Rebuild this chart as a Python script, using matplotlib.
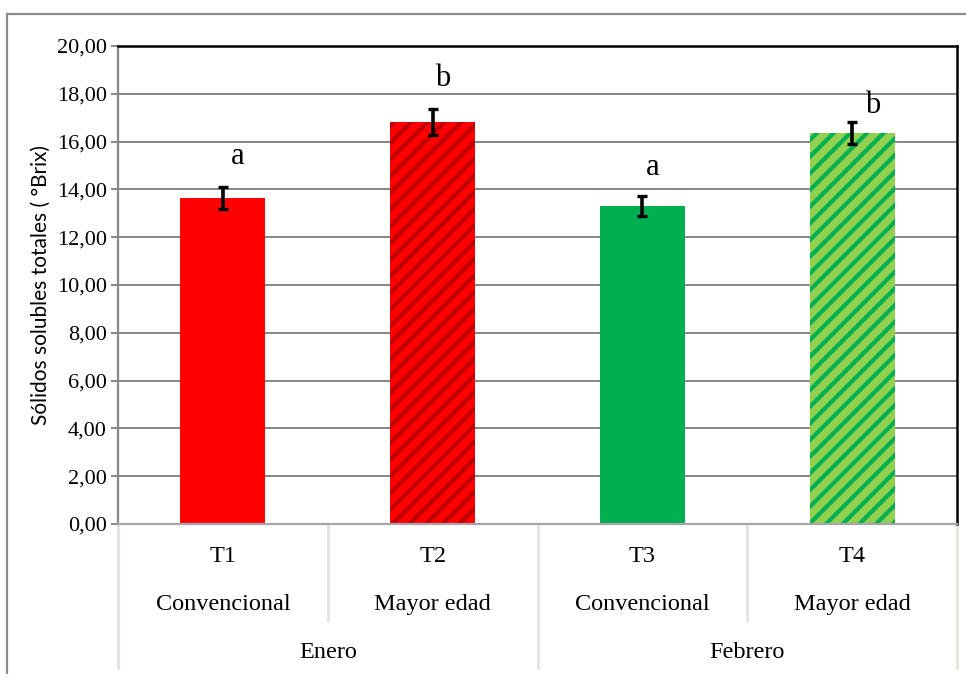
import numpy as np
import matplotlib.pyplot as plt
from matplotlib.patches import Rectangle
import matplotlib.transforms as mtransforms

# datos: sólidos solubles totales por tratamiento
tratamientos = ['T1', 'T2', 'T3', 'T4']
tipos = ['Convencional', 'Mayor edad', 'Convencional', 'Mayor edad']
meses = ['Enero', 'Febrero']
valores = [13.64, 16.82, 13.31, 16.36]
errores = [0.45, 0.56, 0.42, 0.44]
letras = ['a', 'b', 'a', 'b']

# estilo de cada barra: (relleno, color de rayas o None)
estilos = [('#ff0000', None), ('#ff0000', '#c00000'),
           ('#00b050', None), ('#92d050', '#00b050')]
# desplazamiento (x, y) de las letras respecto al borde superior de la barra
despl_letras = [(0.07, 1.75), (0.05, 1.8), (0.05, 1.6), (0.10, 1.15)]

serif = 'Liberation Serif'
plt.rcParams['hatch.linewidth'] = 3.0

fig = plt.figure(figsize=(9.66, 6.74), dpi=100)
fig.patches.append(Rectangle((7 / 966, -0.1), 1.1, 0.1 + 1 - 14 / 674, transform=fig.transFigure,
                             fill=False, edgecolor='#8c8c8c', linewidth=1.6, zorder=0))

ax = fig.add_axes([118 / 966, 1 - 524 / 674, 839 / 966, 478 / 674])
x = np.arange(len(valores))

for i in range(len(valores)):
    cara, raya = estilos[i]
    ax.bar(x[i], valores[i], 0.405, color=cara, linewidth=0, zorder=2)
    if raya:
        ax.bar(x[i], valores[i], 0.405, color='none', edgecolor=raya, hatch='//', linewidth=0, zorder=2)

ax.errorbar(x, valores, yerr=errores, fmt='none', ecolor='black', elinewidth=2.6,
            capsize=3.5, capthick=2.4, zorder=3)

for i in range(len(valores)):
    dx, dy = despl_letras[i]
    ax.text(x[i] + dx, valores[i] + dy, letras[i], ha='center', va='center',
            fontsize=22, family=serif)

ax.set_xlim(-0.5, 3.5)
ax.set_ylim(0, 20)
ax.set_yticks(np.arange(0, 21, 2))
ax.set_yticklabels([f'{v:.2f}'.replace('.', ',') for v in np.arange(0, 21, 2)],
                   family=serif, fontsize=16)
ax.yaxis.grid(True, color='#868686', linewidth=1.4, zorder=0)
ax.set_axisbelow(True)
ax.set_xticks([])
ax.tick_params(axis='y', length=5, width=1.4, color='#868686', pad=3)

ax.spines['left'].set_color('#868686')
ax.spines['left'].set_linewidth(1.6)
ax.spines['bottom'].set_color('#a6a6a6')
ax.spines['bottom'].set_linewidth(1.6)
ax.spines['top'].set_color('black')
ax.spines['top'].set_linewidth(1.8)
ax.spines['right'].set_color('black')
ax.spines['right'].set_linewidth(1.8)

ax.set_ylabel('Sólidos solubles totales ( °Brix)', family='Lato', fontsize=15, labelpad=4)

# tabla de categorías debajo del eje
trans = mtransforms.blended_transform_factory(ax.transData, ax.transAxes)
sep = '#e6e4da'
for xs in [-0.5, 3.5, 1.5]:
    ax.plot([xs, xs], [0, -0.3013], color=sep, linewidth=2, transform=trans, clip_on=False)
for xs in [0.5, 2.5]:
    ax.plot([xs, xs], [0, -0.2008], color=sep, linewidth=2, transform=trans, clip_on=False)

for i in range(len(valores)):
    ax.text(x[i], -0.069, tratamientos[i], transform=trans, ha='center', va='center',
            family=serif, fontsize=17.5)
    ax.text(x[i], -0.169, tipos[i], transform=trans, ha='center', va='center',
            family=serif, fontsize=17.5)
for j, mes in enumerate(meses):
    ax.text(0.5 + 2 * j, -0.268, mes, transform=trans, ha='center', va='center',
            family=serif, fontsize=17.5)

fig.savefig('out.png', dpi=100)
